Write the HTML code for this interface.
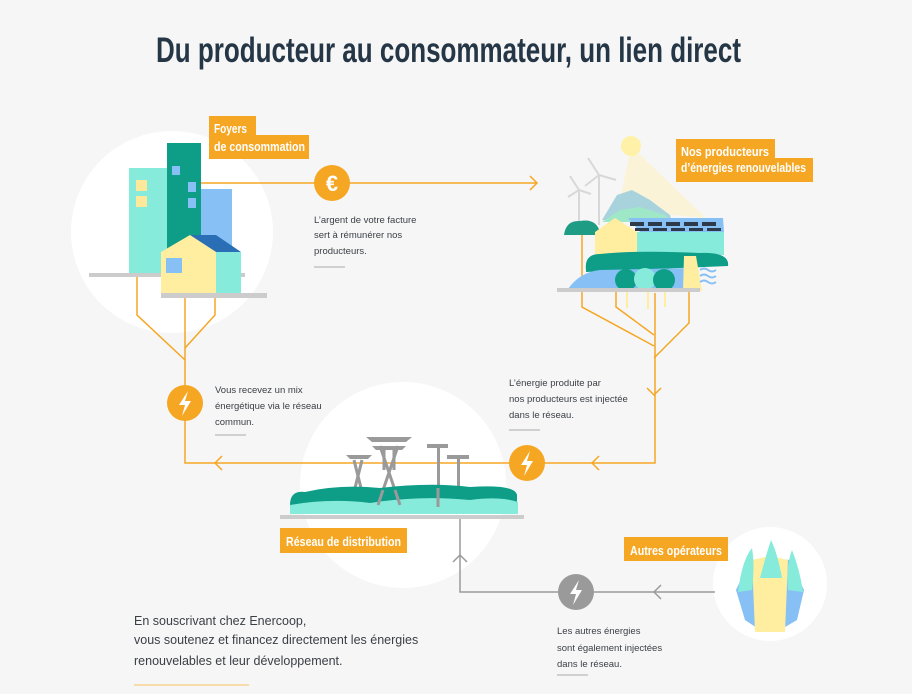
<!DOCTYPE html>
<html><head><meta charset="utf-8"><style>
html,body{margin:0;padding:0;background:#f6f6f6;}
svg{display:block}
.t{font-family:"Liberation Sans",sans-serif;font-size:9.5px;fill:#3a3f45}
.c{font-family:"Liberation Sans",sans-serif;fill:#fff;font-size:13px;font-weight:bold}
</style></head><body>
<svg width="912" height="694" viewBox="0 0 912 694" xmlns="http://www.w3.org/2000/svg">
<rect width="912" height="694" fill="#f6f6f6"/>
<text x="156" y="62" font-family="Liberation Sans,sans-serif" font-weight="bold" font-size="35" fill="#253746" textLength="585" lengthAdjust="spacingAndGlyphs">Du producteur au consommateur, un lien direct</text>

<circle cx="172" cy="232" r="101" fill="#fff"/>
<circle cx="403" cy="485" r="103" fill="#fff"/>
<circle cx="770" cy="584" r="57" fill="#fff"/>

<g stroke="#f5a623" stroke-width="1.5" fill="none">
<line x1="200" y1="183" x2="537" y2="183"/>
<polyline points="530,176 537,183 530,190"/>
<polyline points="137,277 137,315 185,360"/>
<polyline points="215,298 215,315 185,348"/>
<polyline points="185,293 185,463 655,463 655,293"/>
<polyline points="222,456 215,463 222,470"/>
<polyline points="599,456 592,463 599,470"/>
<polyline points="582,235 582,307 654,346"/>
<polyline points="616,292 616,307 654,335"/>
<polyline points="689,292 689,323 654,358"/>
<polyline points="647,388 654,395 661,388"/>
</g>
<g stroke="#9a9a9a" stroke-width="1.5" fill="none">
<polyline points="460,517 460,592 715,592"/>
<polyline points="453,562 460,555 467,562"/>
<polyline points="661,585 654,592 661,599"/>
</g>

<circle cx="332" cy="183" r="18" fill="#f5a623"/>
<text x="332" y="191" text-anchor="middle" font-family="Liberation Sans,sans-serif" font-weight="bold" font-size="22" fill="#fff">€</text>
<circle cx="185" cy="403" r="18" fill="#f5a623"/>
<path d="M188,391 L179,405 L185,405 L182,416 L191,401 L185,401 Z" fill="#fff"/>
<circle cx="527" cy="463" r="18" fill="#f5a623"/>
<path d="M530,451 L521,465 L527,465 L524,476 L533,461 L527,461 Z" fill="#fff"/>
<circle cx="576" cy="592" r="18" fill="#9a9a9a"/>
<path d="M579,580 L570,594 L576,594 L573,605 L582,590 L576,590 Z" fill="#fff"/>

<!-- buildings -->
<rect x="129" y="168" width="42" height="105" fill="#86ebda"/>
<rect x="167" y="143" width="34" height="130" fill="#0e9e88"/>
<rect x="201" y="189" width="31" height="84" fill="#86c0f5"/>
<rect x="136" y="180" width="11" height="11" fill="#ffe89a"/>
<rect x="136" y="196" width="11" height="11" fill="#ffe89a"/>
<rect x="172" y="166" width="8" height="9" fill="#86c0f5"/>
<rect x="188" y="182" width="8" height="10" fill="#86c0f5"/>
<rect x="188" y="198" width="8" height="10" fill="#86c0f5"/>
<rect x="89" y="273" width="156" height="4" fill="#ccc"/>
<polygon points="190,235 216,235 241,252 216,252" fill="#2a6fb5"/>
<polygon points="161,252 190,235 216,252 216,293 161,293" fill="#ffeea0"/>
<rect x="216" y="252" width="25" height="41" fill="#86ebda"/>
<rect x="166" y="258" width="16" height="15" fill="#86c0f5"/>
<rect x="161" y="293" width="106" height="5" fill="#ccc"/>

<!-- producers -->
<polygon points="631,146 706,218 618,210" fill="#fbf3cf" opacity="0.8"/>
<circle cx="631" cy="146" r="10" fill="#fff2a8"/>
<g stroke="#d8d8d8" stroke-width="2"><line x1="599" y1="175" x2="599" y2="225"/><line x1="599" y1="175" x2="588" y2="158"/><line x1="599" y1="175" x2="616" y2="180"/><line x1="599" y1="175" x2="585" y2="186"/>
<line x1="579" y1="190" x2="579" y2="225"/><line x1="579" y1="190" x2="570" y2="176"/><line x1="579" y1="190" x2="591" y2="194"/><line x1="579" y1="190" x2="568" y2="197"/></g>
<polygon points="602,220 617,195 632,190 650,200 670,215 672,222" fill="#a9d3dc"/>
<polygon points="602,222 620,210 640,207 665,215 672,222" fill="#9ee8c8"/>
<path d="M564,235 Q566,220 580,221 Q596,218 600,232 L600,235 Z" fill="#1f9c84"/>
<polygon points="628,218 723,218 724,232 640,232" fill="#86c0f5"/>
<g fill="#2c3a4a"><rect x="630" y="222" width="14" height="4"/><rect x="648" y="222" width="14" height="4"/><rect x="666" y="222" width="14" height="4"/><rect x="684" y="222" width="14" height="4"/><rect x="702" y="222" width="14" height="4"/>
<rect x="635" y="228" width="14" height="3"/><rect x="653" y="228" width="14" height="3"/><rect x="671" y="228" width="14" height="3"/><rect x="689" y="228" width="14" height="3"/><rect x="707" y="228" width="14" height="3"/></g>
<polygon points="595,232 615,218 637,232 637,255 595,255" fill="#ffeea0"/>
<rect x="637" y="232" width="87" height="23" fill="#86ebda"/>
<path d="M586,270 Q584,254 600,254 Q640,250 700,253 Q730,252 728,266 L586,272 Z" fill="#0e9e88"/>
<path d="M568,289 Q580,272 600,270 L690,268 L690,290 Z" fill="#86c0f5"/>
<polygon points="684,256 696,256 702,291 683,291" fill="#ffeea0"/>
<g stroke="#86c0f5" stroke-width="2" fill="none"><path d="M700,270 q4,-3 8,0 t8,0"/><path d="M700,276 q4,-3 8,0 t8,0"/><path d="M700,282 q4,-3 8,0 t8,0"/></g>
<circle cx="626" cy="280" r="11" fill="#0e9e88"/><circle cx="645" cy="279" r="11" fill="#86ebda"/><circle cx="664" cy="280" r="11" fill="#0e9e88"/>
<g stroke="#ffeea0" stroke-width="2"><line x1="627" y1="291" x2="627" y2="308"/><line x1="648" y1="291" x2="648" y2="309"/><line x1="665" y1="291" x2="665" y2="307"/></g>
<rect x="557" y="288" width="143" height="4" fill="#ccc"/>

<!-- network -->
<g stroke="#9a9a9a" stroke-width="3" fill="none">
<line x1="380" y1="446" x2="400" y2="505"/><line x1="398" y1="446" x2="378" y2="505"/>
<line x1="384" y1="446" x2="384" y2="470"/><line x1="394" y1="446" x2="394" y2="470"/>
<line x1="354" y1="460" x2="364" y2="500"/><line x1="362" y1="460" x2="352" y2="500"/>
</g>
<g fill="#9a9a9a">
<polygon points="366,437 412,437 406,442 372,442"/><polygon points="372,446 406,446 402,450 376,450"/>
<polygon points="346,455 372,455 368,459 350,459"/>
<rect x="427" y="444" width="21" height="4"/><rect x="437" y="444" width="3" height="63"/>
<rect x="447" y="455" width="22" height="4"/><rect x="457" y="455" width="3" height="34"/>
</g>
<path d="M290,505 Q290,490 305,492 Q340,484 380,488 Q430,482 470,487 Q515,484 517,495 L517,505 Z" fill="#0e9e88"/>
<path d="M290,514 L290,505 Q330,498 370,503 Q420,495 470,500 Q500,496 518,502 L518,514 Z" fill="#86ebda"/>
<g stroke="#9a9a9a" stroke-width="3"><line x1="383" y1="490" x2="378" y2="505"/><line x1="395" y1="490" x2="400" y2="505"/><line x1="438" y1="488" x2="438" y2="507"/></g>
<rect x="280" y="515" width="244" height="4" fill="#ccc"/>

<!-- operators -->
<polygon points="736,590 750,560 770,558 790,560 804,590 797,620 780,630 760,630 745,620" fill="#86c0f5"/>
<polygon points="752,560 770,556 788,560 785,632 755,632" fill="#ffeea0"/>
<path d="M738,592 Q742,560 752,548 Q755,565 752,590 Z" fill="#86ebda"/>
<path d="M760,578 Q766,555 771,540 Q778,555 782,578 Z" fill="#86ebda"/>
<path d="M788,590 Q786,565 792,550 Q800,570 803,592 Z" fill="#86ebda"/>

<g fill="#f5a623"><rect x="209" y="116" width="47" height="20"/><rect x="209" y="135" width="100" height="24"/>
<rect x="676" y="139" width="99" height="20"/><rect x="676" y="158" width="137" height="24"/>
<rect x="280" y="528" width="127" height="25"/>
<rect x="624" y="537" width="104" height="24"/></g>
<text class="c" x="214" y="133" textLength="33" lengthAdjust="spacingAndGlyphs">Foyers</text>
<text class="c" x="214" y="151" textLength="91" lengthAdjust="spacingAndGlyphs">de consommation</text>
<text class="c" x="681" y="156" textLength="88" lengthAdjust="spacingAndGlyphs">Nos producteurs</text>
<text class="c" x="681" y="172" textLength="125" lengthAdjust="spacingAndGlyphs">d’énergies renouvelables</text>
<text class="c" x="286" y="546" textLength="115" lengthAdjust="spacingAndGlyphs">Réseau de distribution</text>
<text class="c" x="630" y="555" textLength="92" lengthAdjust="spacingAndGlyphs">Autres opérateurs</text>

<text class="t" x="314" y="223">L’argent de votre facture</text>
<text class="t" x="314" y="238">sert à rémunérer nos</text>
<text class="t" x="314" y="254">producteurs.</text>
<line x1="314" y1="267" x2="345" y2="267" stroke="#aaa"/>
<text class="t" x="215" y="393">Vous recevez un mix</text>
<text class="t" x="215" y="409">énergétique via le réseau</text>
<text class="t" x="215" y="425">commun.</text>
<line x1="215" y1="435" x2="246" y2="435" stroke="#aaa"/>
<text class="t" x="509" y="386">L’énergie produite par</text>
<text class="t" x="509" y="402">nos producteurs est injectée</text>
<text class="t" x="509" y="418">dans le réseau.</text>
<line x1="509" y1="430" x2="540" y2="430" stroke="#aaa"/>
<text class="t" x="557" y="634" font-size="9">Les autres énergies</text>
<text class="t" x="557" y="651" font-size="9">sont également injectées</text>
<text class="t" x="557" y="667" font-size="9">dans le réseau.</text>
<line x1="557" y1="675" x2="588" y2="675" stroke="#aaa"/>
<g font-family="Liberation Sans,sans-serif" font-size="12.5" fill="#3a3f45">
<text x="134" y="625">En souscrivant chez Enercoop,</text>
<text x="134" y="644">vous soutenez et financez directement les énergies</text>
<text x="134" y="665">renouvelables et leur développement.</text></g>
<line x1="134" y1="685" x2="249" y2="685" stroke="#f5c060"/>
</svg>
</body></html>
